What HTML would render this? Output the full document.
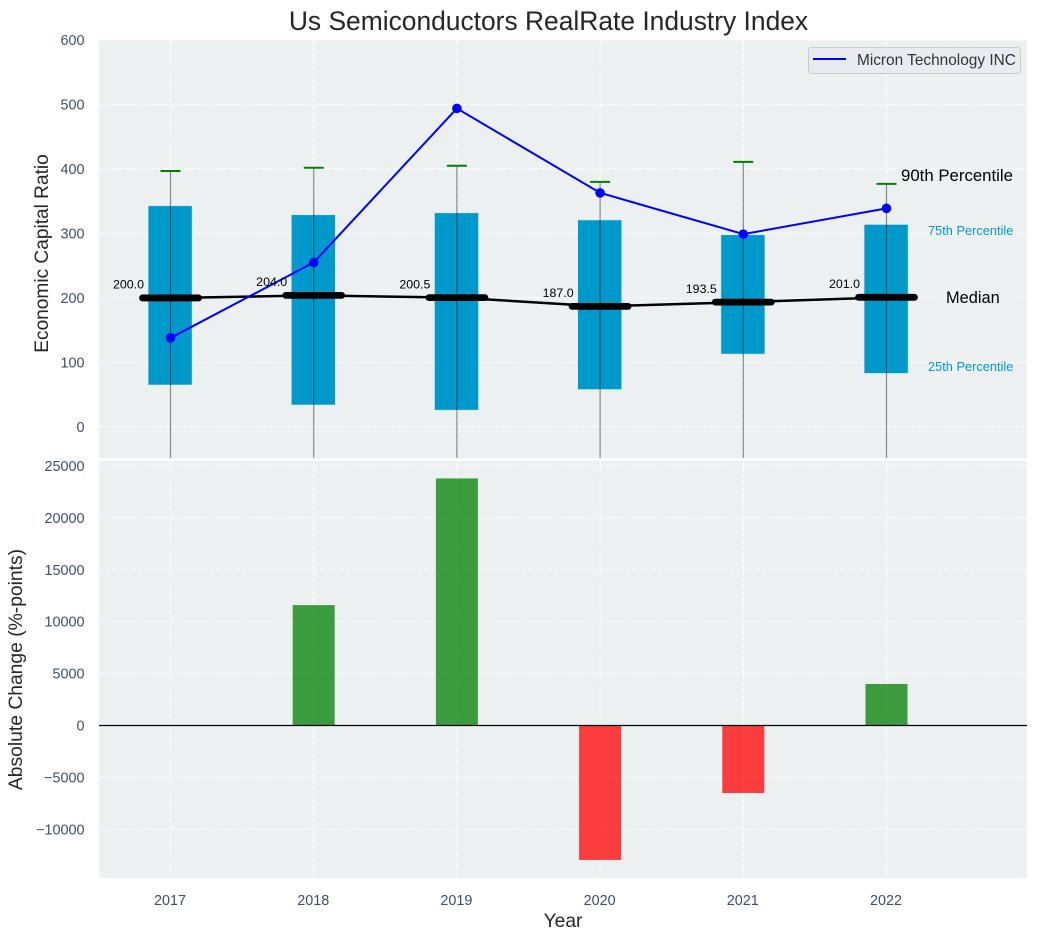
<!DOCTYPE html>
<html lang="en">
<head>
<meta charset="utf-8">
<title>Us Semiconductors RealRate Industry Index</title>
<style>
html,body{margin:0;padding:0;background:#fff;width:1038px;height:940px;overflow:hidden}
svg{display:block}
text{font-family:"Liberation Sans",Arial,sans-serif}
</style>
</head>
<body>
<svg id="chart" xmlns="http://www.w3.org/2000/svg" width="1038" height="940" viewBox="0 0 1038 940">
  <defs>
    <clipPath id="top-clip"><rect x="99" y="40" width="928" height="418"></rect></clipPath>
    <clipPath id="bottom-clip"><rect x="99" y="461" width="928" height="417"></rect></clipPath>
  </defs>
  <rect x="0" y="0" width="1038" height="940" fill="#ffffff"></rect>
  <rect x="99" y="40" width="928" height="418" fill="#ecf0f1"></rect>
  <rect x="99" y="461" width="928" height="417" fill="#ecf0f1"></rect>
  <g id="top-grid" clip-path="url(#top-clip)"></g>
  <g id="bottom-grid" clip-path="url(#bottom-clip)"></g>
  <g id="top-marks" clip-path="url(#top-clip)"></g>
  <g id="bottom-marks" clip-path="url(#bottom-clip)"></g>
  <g id="labels"></g>
  <text x="548.5" y="30" font-size="26.4" text-anchor="middle" fill="#262626">Us Semiconductors RealRate Industry Index</text>
  <text transform="translate(48 253.5) rotate(-90)" font-size="19.1" text-anchor="middle" fill="#262626">Economic Capital Ratio</text>
  <text transform="translate(22 669.5) rotate(-90)" font-size="19.3" text-anchor="middle" fill="#262626">Absolute Change (%-points)</text>
  <text x="563" y="927" font-size="19.2" text-anchor="middle" fill="#262626">Year</text>
  <g>
    <rect x="808.5" y="47.5" width="212" height="26" rx="3" fill="#e9ebf0" stroke="#cccccc" stroke-width="1"></rect>
    <line x1="813" y1="59" x2="846" y2="59" stroke="#0000ff" stroke-width="2"></line>
    <text x="857" y="65" font-size="15.4" fill="#333333">Micron Technology INC</text>
  </g>
</svg>
<script>
const years = [2017, 2018, 2019, 2020, 2021, 2022];
const p10 = [-60, -60, -60, -60, -60, -60];
const p25 = [65, 34, 26, 58, 113, 83];
const p75 = [343, 329, 332, 321, 298, 314];
const p90 = [397, 402, 405, 380, 411, 377];
const medians = [200, 204, 200.5, 187, 193.5, 201];
const medianLabels = ["200.0", "204.0", "200.5", "187.0", "193.5", "201.0"];
const micron = [138, 255, 494, 363, 299, 339];
const changeYears = [2018, 2019, 2020, 2021, 2022];
const changes = [11600, 23800, -12950, -6500, 4000];
const topTicks = [0, 100, 200, 300, 400, 500, 600];
const bottomTicks = [-10000, -5000, 0, 5000, 10000, 15000, 20000, 25000];

const NS = 'http://www.w3.org/2000/svg';
const xScale = v => 170.5 + (v - 2017) * 143.2;
const yTop = v => 426.9 - v * 0.6447;
const yBottom = v => 725.5 - v * 0.01038;

const topGrid = document.getElementById('top-grid');
const bottomGrid = document.getElementById('bottom-grid');
const topMarks = document.getElementById('top-marks');
const bottomMarks = document.getElementById('bottom-marks');
const labels = document.getElementById('labels');

function make(tag, parent, attrs, content) {
  const el = document.createElementNS(NS, tag);
  for (const k in attrs) el.setAttribute(k, attrs[k]);
  if (content !== undefined) el.textContent = content;
  parent.appendChild(el);
  return el;
}
const gridStyle = {stroke: '#ffffff', 'stroke-width': 1.2, 'stroke-dasharray': '4.5 2', opacity: 0.85};

topTicks.forEach(t => {
  const g = make('line', topGrid, Object.assign({x1: 99, x2: 1027, y1: yTop(t), y2: yTop(t)}, gridStyle));
  
  
  const l = make('text', labels, {x: 84.5, y: yTop(t) + 5, 'font-size': 14.4, 'text-anchor': 'end', fill: '#3d4f63'}, String(t));
  
  
});

bottomTicks.forEach(t => {
  const g = make('line', bottomGrid, Object.assign({x1: 99, x2: 1027, y1: yBottom(t), y2: yBottom(t)}, gridStyle));
  
  
  const text = t < 0 ? '\u2212' + Math.abs(t) : String(t);
  const l = make('text', labels, {x: 84.5, y: yBottom(t) + 5, 'font-size': 14.4, 'text-anchor': 'end', fill: '#3d4f63'}, text);
  
  
});

years.forEach(y => {
  const a = make('line', topGrid, Object.assign({x1: xScale(y), x2: xScale(y), y1: 40, y2: 458}, gridStyle));
  
  
  const b = make('line', bottomGrid, Object.assign({x1: xScale(y), x2: xScale(y), y1: 461, y2: 878}, gridStyle));
  
  
  const l = make('text', labels, {x: xScale(y) - 0.5, y: 905, 'font-size': 14.4, 'text-anchor': 'middle', fill: '#3d4f63'}, String(y));
  
  
});

years.forEach((y, i) => {
  const box = make('rect', topMarks, {x: xScale(y) - 22.4, y: yTop(p75[i]), width: 44, height: yTop(p25[i]) - yTop(p75[i]), fill: '#0099cc', stroke: '#cfeaf3', 'stroke-width': 0.6});
  
  
});

years.forEach((y, i) => {
  const w = make('line', topMarks, {x1: xScale(y), x2: xScale(y), y1: yTop(p90[i]), y2: yTop(p10[i]), stroke: '#000000', 'stroke-opacity': 0.45, 'stroke-width': 1.2});
  
  
  const c = make('line', topMarks, {x1: xScale(y) - 10, x2: xScale(y) + 10, y1: yTop(p90[i]), y2: yTop(p90[i]), stroke: '#008000', 'stroke-width': 2});
  
  
});

const medianLine = make('polyline', topMarks, {points: years.map((y, i) => xScale(y) + ',' + yTop(medians[i])).join(' '), fill: 'none', stroke: '#000000', 'stroke-width': 2.5});



years.forEach((y, i) => {
  const m = make('line', topMarks, {x1: xScale(y) - 28, x2: xScale(y) + 28, y1: yTop(medians[i]), y2: yTop(medians[i]), stroke: '#000000', 'stroke-width': 6.8, 'stroke-linecap': 'round'});
  
  
});

const micronLine = make('polyline', topMarks, {points: years.map((y, i) => xScale(y) + ',' + yTop(micron[i])).join(' '), fill: 'none', stroke: '#0000ff', 'stroke-width': 2});



years.forEach((y, i) => {
  const p = make('circle', topMarks, {cx: xScale(y), cy: yTop(micron[i]), r: 4.8, fill: '#0000ff'});
  
  
  const t = make('text', labels, {x: xScale(y) - 26.5, y: yTop(medians[i]) - 9.3, 'font-size': 12.4, 'text-anchor': 'end', fill: '#000000'}, medianLabels[i]);
  
  
});

changeYears.forEach((y, i) => {
  const v = changes[i];
  const b = make('rect', bottomMarks, {x: xScale(y) - 21, y: yBottom(Math.max(v, 0)), width: 42, height: Math.abs(yBottom(v) - yBottom(0)), fill: v >= 0 ? '#008000' : '#ff0000', 'fill-opacity': 0.75});
  
  
});

const zero = make('line', bottomMarks, {x1: 99, x2: 1027, y1: yBottom(0), y2: yBottom(0), stroke: '#000000', 'stroke-width': 1.3});



const last = years.length - 1;
const lastX = xScale(years[last]);
const a90 = make('text', labels, {x: lastX + 14.5, y: yTop(p90[last]) - 2.7, 'font-size': 16.8, fill: '#000000'}, '90th Percentile');


const a75 = make('text', labels, {x: lastX + 41.5, y: yTop(p75[last]) + 10.5, 'font-size': 12.8, fill: '#0099cc'}, '75th Percentile');


const aMed = make('text', labels, {x: lastX + 59.5, y: yTop(medians[last]) + 5.5, 'font-size': 16.4, fill: '#000000'}, 'Median');


const a25 = make('text', labels, {x: lastX + 41.5, y: yTop(p25[last]) - 2.2, 'font-size': 12.8, fill: '#0099cc'}, '25th Percentile');


</script>
</body>
</html>
